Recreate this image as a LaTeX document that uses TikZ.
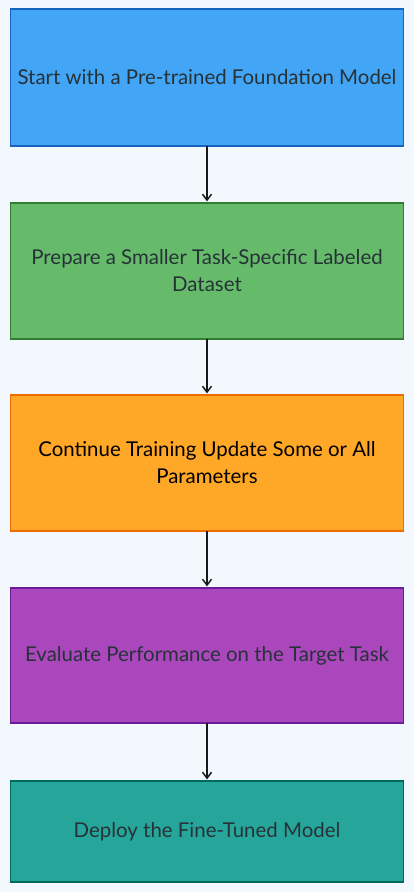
\documentclass[tikz,border=0pt]{standalone}
\usepackage{fontspec}
\setmainfont{Lato}
\usetikzlibrary{arrows.meta}
\definecolor{bg}{HTML}{F3F8FE}
\definecolor{txt}{HTML}{263238}
\definecolor{f1}{HTML}{42A5F5}\definecolor{d1}{HTML}{1565C0}
\definecolor{f2}{HTML}{66BB6A}\definecolor{d2}{HTML}{2E7D32}
\definecolor{f3}{HTML}{FFA726}\definecolor{d3}{HTML}{EF6C00}
\definecolor{f4}{HTML}{AB47BC}\definecolor{d4}{HTML}{6A1B9A}
\definecolor{f5}{HTML}{26A69A}\definecolor{d5}{HTML}{00695C}
\tikzset{
  stepbox/.style={draw, line width=1.2pt, minimum width=393bp, align=center, inner sep=0pt, text=txt, font=\fontsize{20.5}{27}\selectfont},
  flow/.style={draw=black!90, line width=1.9pt, line cap=round, -{Straight Barb[length=6pt,width=9pt,line width=1.5pt]}, shorten >=1pt}
}
\begin{document}
\begin{tikzpicture}[x=1bp,y=-1bp]
\fill[bg] (0,0) rectangle (414,892);
\useasboundingbox (0,0) rectangle (414,892);
\node[stepbox, fill=f1, draw=d1, minimum height=137bp] (n1) at (207,77.5) {Start with a Pre-trained Foundation Model};
\node[stepbox, fill=f2, draw=d2, minimum height=136bp] (n2) at (207,271) {Prepare a Smaller Task-Specific Labeled\\Dataset};
\node[stepbox, fill=f3, draw=d3, minimum height=136bp, text=black] (n3) at (207,463) {Continue Training Update Some or All\\Parameters};
\node[stepbox, fill=f4, draw=d4, minimum height=135bp] (n4) at (207,655.5) {Evaluate Performance on the Target Task};
\node[stepbox, fill=f5, draw=d5, minimum height=101bp] (n5) at (207,831.5) {Deploy the Fine-Tuned Model};
\draw[flow] (n1) -- (n2);
\draw[flow] (n2) -- (n3);
\draw[flow] (n3) -- (n4);
\draw[flow] (n4) -- (n5);
\end{tikzpicture}
\end{document}
